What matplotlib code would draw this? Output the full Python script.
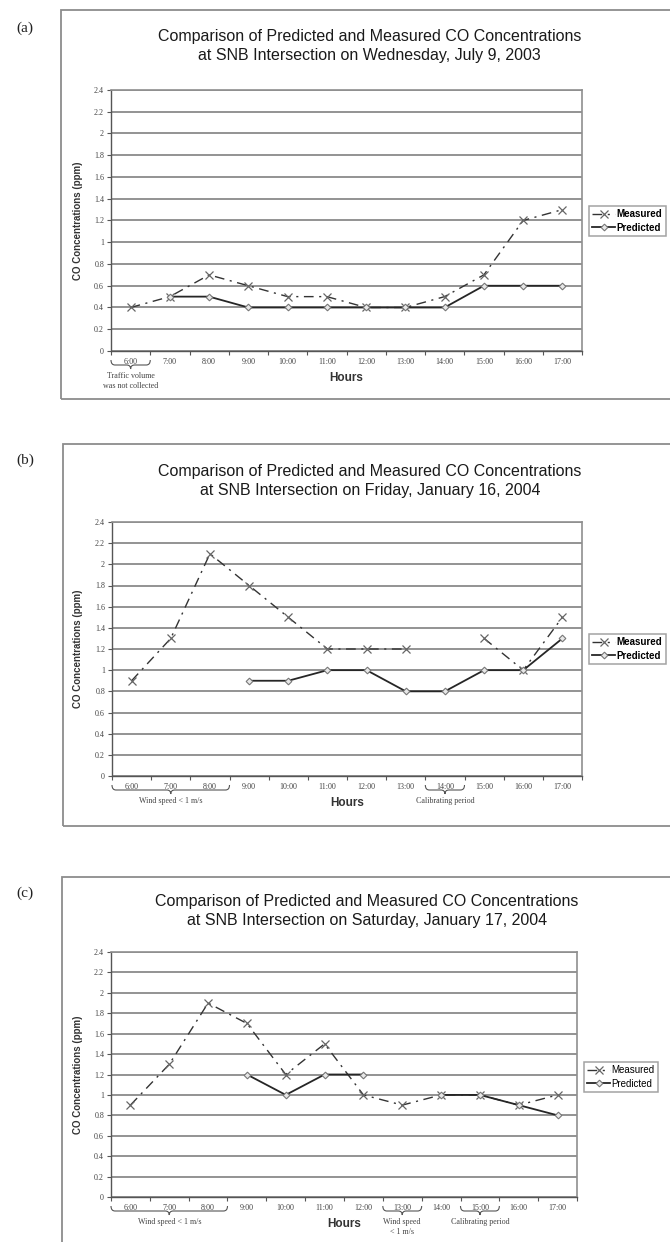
import numpy as np
import matplotlib
matplotlib.use('Agg')
import matplotlib.pyplot as plt
from matplotlib.path import Path
from matplotlib.patches import PathPatch, Rectangle

# ---------------- data ----------------
hours = ['6:00', '7:00', '8:00', '9:00', '10:00', '11:00', '12:00',
         '13:00', '14:00', '15:00', '16:00', '17:00']
y_ticks = [0, 0.2, 0.4, 0.6, 0.8, 1.0, 1.2, 1.4, 1.6, 1.8, 2.0, 2.2, 2.4]
y_tick_labels = ['0', '0.2', '0.4', '0.6', '0.8', '1', '1.2', '1.4',
                 '1.6', '1.8', '2', '2.2', '2.4']
nan = np.nan

measured_a = [0.4, 0.5, 0.7, 0.6, 0.5, 0.5, 0.4, 0.4, 0.5, 0.7, 1.2, 1.3]
predicted_a = [nan, 0.5, 0.5, 0.4, 0.4, 0.4, 0.4, 0.4, 0.4, 0.6, 0.6, 0.6]

measured_b = [0.9, 1.3, 2.1, 1.8, 1.5, 1.2, 1.2, 1.2, nan, 1.3, 1.0, 1.5]
predicted_b = [nan, nan, nan, 0.9, 0.9, 1.0, 1.0, 0.8, 0.8, 1.0, 1.0, 1.3]

measured_c = [0.9, 1.3, 1.9, 1.7, 1.2, 1.5, 1.0, 0.9, 1.0, 1.0, 0.9, 1.0]
predicted_c = [nan, nan, nan, 1.2, 1.0, 1.2, 1.2, nan, 1.0, 1.0, 0.9, 0.8]

titles = [
    "Comparison of Predicted and Measured CO Concentrations\nat SNB Intersection on Wednesday, July 9, 2003",
    "Comparison of Predicted and Measured CO Concentrations\nat SNB Intersection on Friday, January 16, 2004",
    "Comparison of Predicted and Measured CO Concentrations\nat SNB Intersection on Saturday, January 17, 2004",
]
panel_labels = ['(a)', '(b)', '(c)']
series_names = ['Measured', 'Predicted']

# annotations: (first category, last category, text)
notes_a = [(0, 0, 'Traffic volume\nwas not collected')]
notes_b = [(0, 2, 'Wind speed < 1 m/s'), (8, 8, 'Calibrating period')]
notes_c = [(0, 2, 'Wind speed < 1 m/s'), (7, 7, 'Wind speed\n< 1 m/s'),
           (9, 9, 'Calibrating period')]

# ---------------- layout (pixels) ----------------
W, H = 670, 1242
panels = [
    dict(m=measured_a, p=predicted_a, notes=notes_a,
         frame=(61, 10, 700, 399), plot=(111, 90, 582, 351),
         label_xy=(25, 28), title_y=46, legend_xy=(589, 206), bold_leg=True),
    dict(m=measured_b, p=predicted_b, notes=notes_b,
         frame=(63, 444, 700, 826), plot=(112, 522, 582, 776),
         label_xy=(25, 460), title_y=481, legend_xy=(589, 634), bold_leg=True),
    dict(m=measured_c, p=predicted_c, notes=notes_c,
         frame=(62, 877, 700, 1260), plot=(111, 952, 577, 1197),
         label_xy=(25, 893), title_y=911, legend_xy=(584, 1062), bold_leg=False),
]

plt.rcParams['font.family'] = ['Liberation Sans', 'DejaVu Sans']
fig = plt.figure(figsize=(W / 100, H / 100), dpi=100)
fig.patch.set_facecolor('white')


def fx(x):
    return x / W


def fy(y):
    return 1 - y / H


serif = ['Liberation Serif', 'DejaVu Serif']

for i, P in enumerate(panels):
    fl, ft, fr, fb = P['frame']
    fig.patches.append(Rectangle((fx(fl), fy(fb)), fx(fr - fl), (fb - ft) / H,
                                 transform=fig.transFigure, fill=False,
                                 edgecolor='#8c8c8c', lw=1.3, zorder=0))
    L, T, R, B = P['plot']
    ax = fig.add_axes([fx(L), fy(B), (R - L) / W, (B - T) / H])
    x = np.arange(len(hours))
    l1, = ax.plot(x, P['m'], color='#333333', lw=1.0, ls=(0, (7, 4, 1.5, 4)),
                  marker='x', ms=5.5, mec='#666666', mew=0.9, zorder=3)
    l2, = ax.plot(x, P['p'], color='#262626', lw=1.3, marker='D', ms=3.4,
                  mfc='#e8e8e8', mec='#777777', mew=0.8, zorder=4)
    ax.set_xlim(-0.5, len(hours) - 0.5)
    ax.set_ylim(0, 2.4)
    ax.set_yticks(y_ticks)
    ax.set_yticklabels(y_tick_labels, fontsize=5.8, family=serif, color='#444444')
    ax.yaxis.grid(True, color='#8a8a8a', lw=1.3)
    ax.set_axisbelow(True)
    ax.set_xticks(np.arange(-0.5, len(hours), 1))
    ax.set_xticklabels([])
    ax.set_xticks(x, minor=True)
    ax.set_xticklabels(hours, minor=True, fontsize=5.8, family=serif, color='#444444')
    ax.tick_params(axis='x', which='minor', length=0, pad=5)
    ax.tick_params(axis='x', which='major', length=3, direction='out',
                   color='#555555', width=0.8)
    ax.tick_params(axis='y', length=3, direction='out', color='#555555',
                   width=0.8, pad=2)
    for s in ['top', 'right']:
        ax.spines[s].set_color('#8f8f8f')
        ax.spines[s].set_linewidth(1.2)
    for s in ['left', 'bottom']:
        ax.spines[s].set_color('#555555')
        ax.spines[s].set_linewidth(1.0)

    cx = (L + R) / 2
    fig.text(fx(cx + 23), fy(P['title_y']), titles[i], ha='center', va='center',
             fontsize=11.5, color='#1a1a1a', linespacing=1.3)
    fig.text(fx(P['label_xy'][0]), fy(P['label_xy'][1]), panel_labels[i],
             ha='center', va='center', fontsize=11, family=serif, color='#222222')
    fig.text(fx(78), fy((T + B) / 2), 'CO Concentrations (ppm)', rotation=90,
             ha='center', va='center', fontsize=7, fontweight='bold', color='#333333')
    fig.text(fx(cx), fy(B + 27), 'Hours', ha='center', va='center',
             fontsize=8.5, fontweight='bold', color='#333333')

    leg = fig.legend([l1, l2], series_names, loc='upper left',
                     bbox_to_anchor=(fx(P['legend_xy'][0]), fy(P['legend_xy'][1])),
                     frameon=True, fancybox=False, edgecolor='#8c8c8c',
                     handlelength=2.3, borderpad=0.35,
                     labelspacing=0.35, handletextpad=0.2, borderaxespad=0,
                     prop={'weight': 'bold' if P['bold_leg'] else 'normal', 'size': 7})
    leg.get_frame().set_linewidth(1.1)

    # braces & notes
    fig.canvas.draw()
    for (a, b, txt) in P['notes']:
        xa = ax.transData.transform((a - 0.5, 0))[0]
        xb = ax.transData.transform((b + 0.5, 0))[0]
        xm = (xa + xb) / 2
        yt = B + 9
        yh = yt + 5
        ytip = yt + 9
        pts = [(xa, yt), (xa, yh), (xa + 4, yh),
               (xm - 4, yh), (xm, yh), (xm, ytip),
               (xm, yh), (xm + 4, yh),
               (xb - 4, yh), (xb, yh), (xb, yt)]
        codes = [Path.MOVETO, Path.CURVE3, Path.CURVE3,
                 Path.LINETO, Path.CURVE3, Path.CURVE3,
                 Path.CURVE3, Path.CURVE3,
                 Path.LINETO, Path.CURVE3, Path.CURVE3]
        ptsf = [(fx(px), fy(py)) for px, py in pts]
        fig.patches.append(PathPatch(Path(ptsf, codes), transform=fig.transFigure,
                                     fill=False, edgecolor='#555555', lw=0.8))
        fig.text(fx(xm), fy(ytip + 3), txt, ha='center', va='top', fontsize=5.8,
                 family=serif, color='#444444', linespacing=1.3)

fig.savefig('out.png', dpi=100, facecolor='white')
